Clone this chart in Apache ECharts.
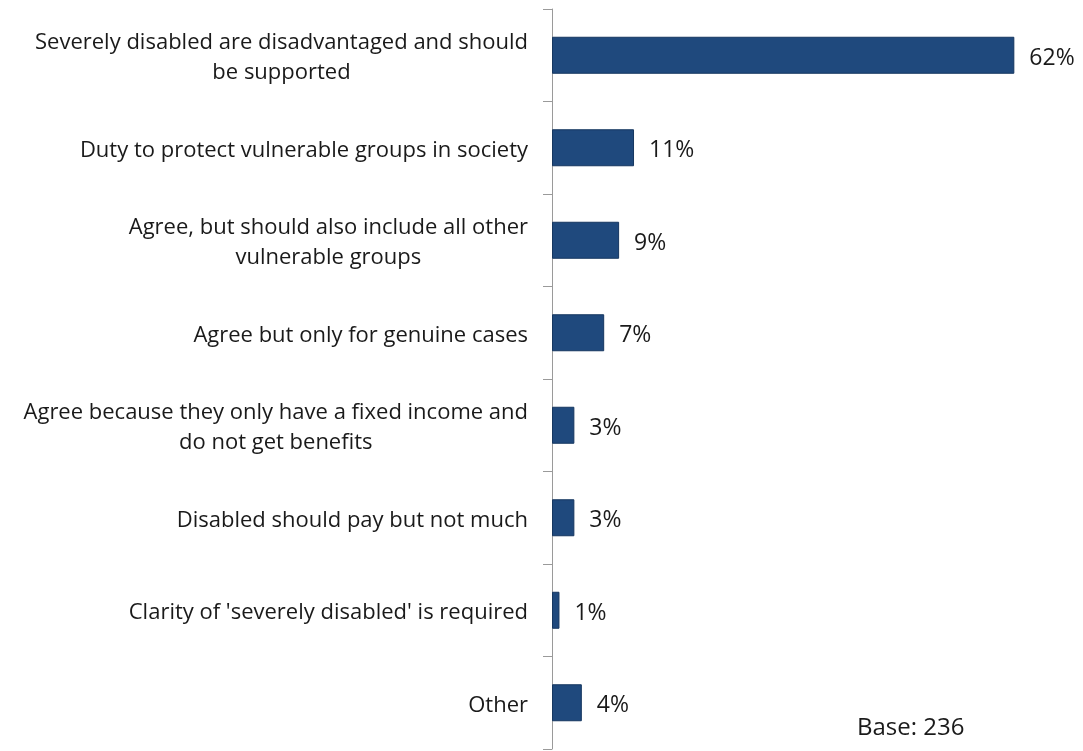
<!DOCTYPE html>
<html>
<head>
<meta charset="utf-8">
<script src="https://cdn.jsdelivr.net/npm/echarts@6/dist/echarts.min.js"></script>
<style>
  html, body { margin: 0; padding: 0; background: #fff; }
  #chart { width: 1083px; height: 751px; }
</style>
</head>
<body>
<div id="chart"></div>
<script>
// Reasons given for agreeing with the proposal (% of respondents)
const categories = [
  "Severely disabled are disadvantaged and should\nbe supported",
  "Duty to protect vulnerable groups in society",
  "Agree, but should also include all other\nvulnerable groups",
  "Agree but only for genuine cases",
  "Agree because they only have a fixed income and\ndo not get benefits",
  "Disabled should pay but not much",
  "Clarity of 'severely disabled' is required",
  "Other"
];
const values = [62, 11, 9, 7, 3, 3, 1, 4];
const baseNote = "Base: 236";

const FONT = "'Open Sans', sans-serif";
const FS = 22;

const chart = echarts.init(document.getElementById('chart'));
chart.setOption({
  animation: false,
  grid: { left: 552, right: 9, top: 9, bottom: 2, containLabel: false },
  xAxis: {
    type: 'value', min: 0, max: 70,
    show: false
  },
  yAxis: {
    type: 'category',
    data: categories,
    inverse: true,
    axisLine: { show: true, lineStyle: { color: '#9a9a9a', width: 1 } },
    axisTick: { show: true, length: 9, lineStyle: { color: '#9a9a9a' } },
    axisLabel: {
      margin: 24,
      align: 'right',
      color: '#1a1a1a',
      fontFamily: FONT,
      fontSize: FS,
      lineHeight: 30,
      padding: [5, 0, 0, 0],
      formatter: function (v) {
        return v.split('\n').map(function (s) { return '{c|' + s + '}'; }).join('\n');
      },
      rich: {
        c: { align: 'center', fontFamily: FONT, fontSize: FS, lineHeight: 30, color: '#1a1a1a' }
      }
    }
  },
  series: [{
    type: 'bar',
    data: values,
    barWidth: '40%',
    itemStyle: { color: '#1F497D', borderColor: '#163760', borderWidth: 1 },
    label: {
      show: true,
      position: 'right',
      distance: 15,
      offset: [0, 3],
      formatter: '{c}%',
      fontFamily: FONT,
      fontSize: 23,
      color: '#1a1a1a'
    }
  }],
  graphic: [{
    type: 'text',
    left: 857,
    top: 716,
    style: { text: baseNote, fontFamily: FONT, fontSize: 24, fill: '#1a1a1a' }
  }]
});
</script>
</body>
</html>
